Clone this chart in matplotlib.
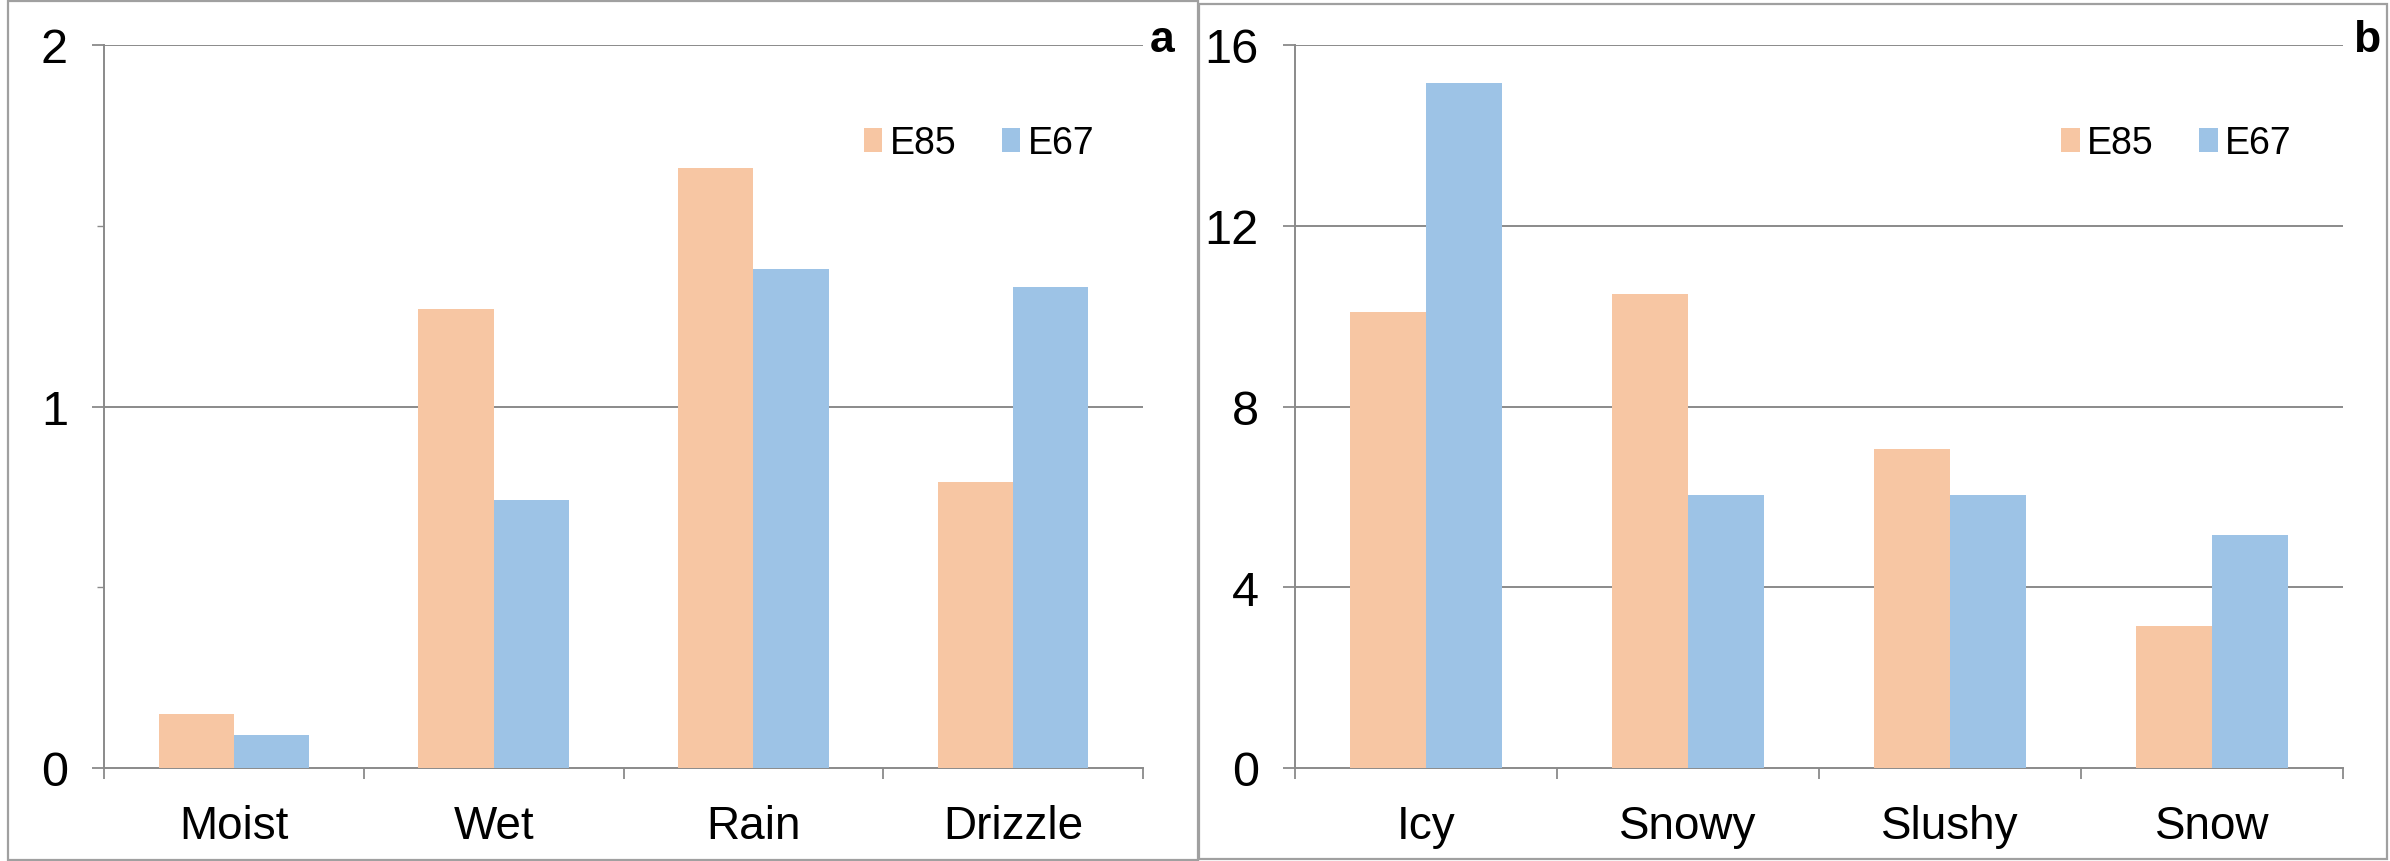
import matplotlib

matplotlib.use("Agg")
import matplotlib.pyplot as plt
import numpy as np
from matplotlib.patches import Rectangle

# --- data ---------------------------------------------------------------------
cats_a = ["Moist", "Wet", "Rain", "Drizzle"]
e85_a = [0.15, 1.27, 1.66, 0.79]
e67_a = [0.09, 0.74, 1.38, 1.33]
yticks_a = [0, 1, 2]

cats_b = ["Icy", "Snowy", "Slushy", "Snow"]
e85_b = [10.1, 10.5, 7.05, 3.15]
e67_b = [15.15, 6.05, 6.05, 5.15]
yticks_b = [0, 4, 8, 12, 16]

series = ["E85", "E67"]
# ------------------------------------------------------------------------------

C85 = "#F7C6A3"
C67 = "#9DC3E6"
GREY = "#8a8a8a"
plt.rcParams["font.family"] = ["Liberation Sans", "DejaVu Sans"]

W, H = 2390, 862
fig = plt.figure(figsize=(W / 100, H / 100), dpi=100)
fig.patch.set_facecolor("white")


def fx(px):
    return px / W


def fy(py):
    return 1 - py / H


# panel frames
for x0, y0, x1, y1 in [(8, 2, 1198, 861), (1199, 5, 2387, 860)]:
    fig.add_artist(Rectangle((fx(x0), fy(y1)), fx(x1 - x0), (y1 - y0) / H,
                             transform=fig.transFigure, fill=False,
                             edgecolor="#a0a0a0", lw=1.6))


def panel(rect, cats, v85, v67, yt, minor, label, lab_xy):
    ax = fig.add_axes(rect)
    x = np.arange(len(cats))
    bw = 0.29
    ax.bar(x - bw / 2, v85, bw, color=C85, label=series[0], zorder=3)
    ax.bar(x + bw / 2, v67, bw, color=C67, label=series[1], zorder=3)
    ax.set_xlim(-0.5, len(cats) - 0.5)
    ax.set_ylim(yt[0], yt[-1])
    ax.set_yticks(yt)
    ax.set_yticklabels([str(t) for t in yt], fontsize=35)
    if minor:
        ax.set_yticks(minor, minor=True)
    ax.set_xticks(x)
    ax.set_xticklabels(cats, fontsize=33)
    ax.set_xticks(np.arange(len(cats) + 1) - 0.5, minor=True)
    ax.tick_params(axis="x", which="major", length=0, pad=26)
    ax.tick_params(axis="x", which="minor", length=8, width=1.3, color=GREY)
    ax.tick_params(axis="y", which="major", length=9, width=1.3, color=GREY, pad=17)
    ax.tick_params(axis="y", which="minor", length=5, width=1.0, color=GREY)
    for t in yt[1:]:
        ax.axhline(t, color=GREY, lw=1.4, zorder=1)
    for s in ("top", "right"):
        ax.spines[s].set_visible(False)
    for s in ("left", "bottom"):
        ax.spines[s].set_color(GREY)
        ax.spines[s].set_linewidth(1.4)
    ax.legend(loc="center left", bbox_to_anchor=(0.731, 0.864), ncol=2,
              frameon=False, fontsize=27, handlelength=0.5,
              handleheight=0.62, handletextpad=0.2, columnspacing=1.2,
              borderpad=0, borderaxespad=0)
    fig.text(fx(lab_xy[0]), fy(lab_xy[1]), label, fontsize=32,
             fontweight="bold", ha="center", va="center")
    return ax


ax_top = 1 - 769 / H
ax_h = (769 - 46) / H
panel([fx(104), ax_top, fx(1143 - 104), ax_h], cats_a, e85_a, e67_a,
      yticks_a, [0.5, 1.5], "a", (1162, 40))
panel([fx(1295), ax_top, fx(2343 - 1295), ax_h], cats_b, e85_b, e67_b,
      yticks_b, None, "b", (2367, 40))

fig.savefig("out.png", dpi=100, facecolor="white")
